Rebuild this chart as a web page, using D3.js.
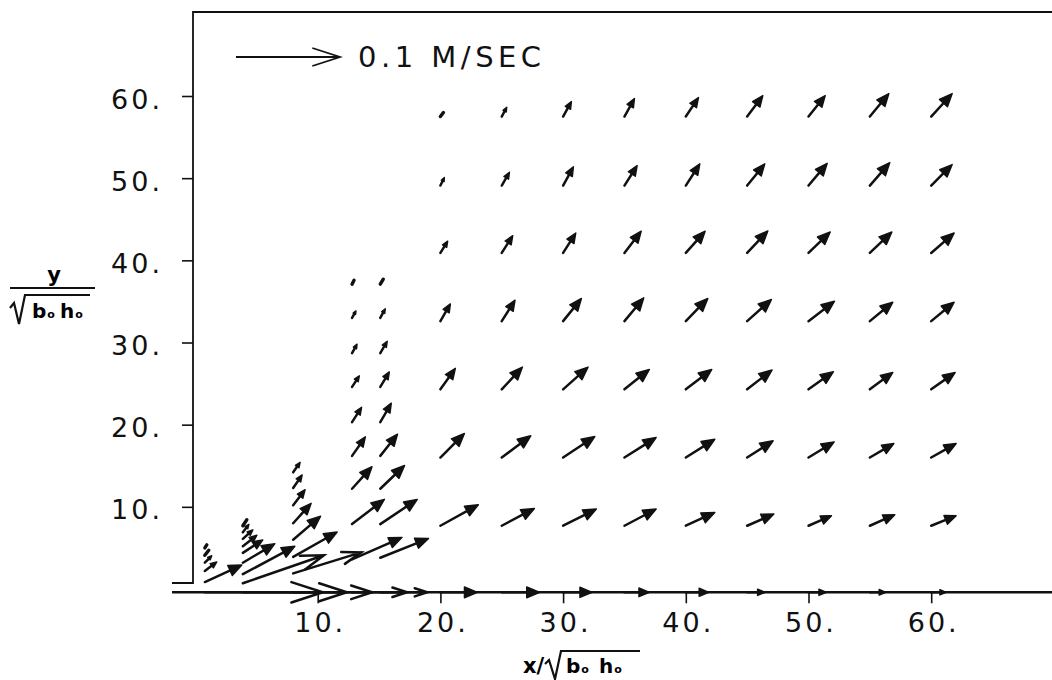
<!DOCTYPE html>
<html>
<head>
<meta charset="utf-8">
<script src="https://cdn.jsdelivr.net/npm/d3@7"></script>
<style>
	body { margin: 0; background: #fff; }
</style>
</head>
<body>
<div id="chart"></div>
<script>
//**********************************
// velocity field, x/sqrt(b0 h0) vs y/sqrt(b0 h0)
// velocities read in cm/s (reference arrow 0.1 M/SEC = 10 cm/s)
//**********************************
var gridX = [20, 25, 30, 35, 40, 45, 50, 55, 60];
var gridY = [57.5, 49.1, 40.9, 32.6, 24.3, 16.0, 7.7, -0.4];

// one row per column of gridX, values in gridY order
var gridU = [
	[0.29, 0.38, 0.70, 0.96, 1.44, 2.31, 3.65, 3.56],
	[0.48, 0.74, 1.06, 1.28, 1.99, 2.79, 3.14, 3.65],
	[0.80, 0.99, 1.22, 1.76, 2.40, 3.05, 3.20, 2.79],
	[0.96, 1.22, 1.61, 1.86, 2.40, 3.05, 3.05, 2.40],
	[1.22, 1.35, 1.86, 2.12, 2.50, 2.79, 2.79, 2.21],
	[1.51, 1.70, 1.99, 2.34, 2.40, 2.50, 2.57, 1.73],
	[1.61, 1.80, 2.09, 2.50, 2.40, 2.47, 2.21, 1.73],
	[1.83, 1.92, 2.12, 2.21, 2.21, 2.31, 2.40, 1.54],
	[2.02, 2.02, 2.21, 2.21, 2.31, 2.40, 2.40, 1.44]
];
var gridV = [
	[0.38, 0.77, 1.13, 1.66, 2.02, 2.31, 2.02, 0],
	[0.89, 1.28, 1.66, 2.02, 2.14, 2.09, 1.66, 0],
	[1.44, 1.80, 1.92, 2.18, 2.14, 2.02, 1.61, 0],
	[1.73, 1.92, 2.09, 2.24, 1.92, 1.92, 1.61, 0],
	[1.83, 2.09, 2.09, 2.18, 1.92, 1.76, 1.28, 0],
	[2.02, 2.09, 2.12, 2.09, 1.86, 1.61, 1.13, 0],
	[2.02, 2.14, 2.02, 1.92, 1.70, 1.51, 0.96, 0],
	[2.21, 2.21, 2.02, 1.83, 1.63, 1.35, 1.06, 0],
	[2.21, 2.02, 1.92, 1.83, 1.63, 1.35, 0.96, 0]
];

// stations near the source, each with its own heights
var nearX = [0.8, 3.9, 8.0, 12.8, 15.1];
var nearY = [
	[5.0, 4.1, 3.2, 2.2, 0.85, -0.4],
	[7.7, 6.9, 6.1, 5.2, 4.4, 3.2, 1.8, 0.7, -0.4],
	[14.2, 12.3, 10.2, 8.0, 6.0, 3.9, 1.9, -0.4],
	[37.1, 33.0, 28.7, 24.6, 20.3, 16.2, 12.2, 7.9, 3.6, -0.4],
	[37.1, 33.0, 28.7, 24.6, 20.3, 16.2, 12.2, 7.9, 3.8, -0.4]
];
var nearU = [
	[0.19, 0.38, 0.67, 1.15, 3.56, 11.35],
	[0.38, 0.58, 0.96, 1.35, 1.92, 3.08, 5.00, 7.79, 10.0],
	[0.67, 0.87, 1.15, 1.73, 2.64, 4.23, 6.54, 7.60],
	[0.19, 0.38, 0.48, 0.70, 0.92, 1.28, 1.92, 3.11, 4.81, 5.29],
	[0.29, 0.48, 0.67, 0.87, 1.06, 1.66, 2.34, 3.56, 4.64, 4.52]
];
var nearV = [
	[0.29, 0.48, 0.67, 0.87, 1.63, 0],
	[0.58, 0.77, 0.87, 1.06, 1.25, 1.83, 2.69, 2.69, 0],
	[0.96, 1.25, 1.49, 1.92, 2.26, 2.40, 2.02, 0],
	[0.38, 0.67, 0.87, 1.06, 1.44, 1.83, 2.12, 2.38, 2.12, 0],
	[0.48, 0.87, 1.15, 1.44, 1.83, 2.09, 2.24, 2.38, 1.86, 0]
];

var xTicks = [10, 20, 30, 40, 50, 60];
var yTicks = [10, 20, 30, 40, 50, 60];
var refSpeed = 10;
var refLabel = "0.1 M/SEC";

var width = 1052, height = 680;
var tickFont = "'DejaVu Sans', sans-serif";

var svg = d3.select("#chart").append("svg")
	.attr("width", width)
	.attr("height", height)
	.style("display", "block");
var g = svg.append("g");

var x = d3.scaleLinear().domain([0, 70]).range([195, 1053.9]);
var y = d3.scaleLinear().domain([0, 60]).range([589, 96]);
var speed = d3.scaleLinear().domain([0, 10]).range([0, 104]);

var frameLeft = 193, frameTop = 12, frameBottom = 583;
var axisY = y(-0.4);

// frame
g.append("path")
	.attr("d", "M" + width + "," + frameTop + " L" + frameLeft + "," + frameTop +
		" L" + frameLeft + "," + frameBottom + " L172," + frameBottom)
	.style("fill", "none")
	.style("stroke", "#111")
	.style("stroke-width", 1.8);

g.append("line")
	.attr("x1", 172).attr("y1", axisY)
	.attr("x2", width).attr("y2", axisY)
	.style("stroke", "#111")
	.style("stroke-width", 2.4);

// y axis ticks
var yAxis = g.append("g")
	.attr("transform", "translate(" + frameLeft + ",0)")
	.call(d3.axisLeft(y).tickValues(yTicks).tickSize(11).tickFormat(function(d){ return d + "."; }));
yAxis.select(".domain").remove();
yAxis.selectAll("line").style("stroke", "#111").style("stroke-width", 1.6);
yAxis.selectAll("text")
	.attr("x", -30)
	.attr("dy", null)
	.attr("y", 12)
	.style("font-family", tickFont)
	.style("font-size", "27px")
	.style("letter-spacing", "3px")
	.style("fill", "#111");

// x axis ticks
var xAxis = g.append("g")
	.attr("transform", "translate(0," + axisY + ")")
	.call(d3.axisBottom(x).tickValues(xTicks).tickSize(11).tickFormat(function(d){ return d + "."; }));
xAxis.select(".domain").remove();
xAxis.selectAll("line").style("stroke", "#111").style("stroke-width", 1.6);
xAxis.selectAll("text")
	.attr("x", -24)
	.attr("dy", null)
	.attr("y", 40)
	.style("text-anchor", "start")
	.style("font-family", tickFont)
	.style("font-size", "27px")
	.style("letter-spacing", "3px")
	.style("fill", "#111");

// collect all vectors
var arrows = [];
gridX.forEach(function(cx, i){
	gridY.forEach(function(cy, j){
		arrows.push({ sx : cx, sy : cy, u : gridU[i][j], v : gridV[i][j] });
	});
});
nearX.forEach(function(cx, i){
	nearY[i].forEach(function(cy, j){
		arrows.push({ sx : cx, sy : cy, u : nearU[i][j], v : nearV[i][j] });
	});
});

var arrowParts = function(x0, y0, dx, dy, onAxis)
{
	var L = Math.sqrt(dx * dx + dy * dy);
	var ex = dx / L, ey = dy / L;
	var nx = -ey, ny = ex;
	var tx = x0 + dx, ty = y0 + dy;
	var open = L > 60 || (onAxis && L > 40);
	if(open)
	{
		var b = 0.28 * L, c = Math.cos(18 * Math.PI / 180), s = Math.sin(18 * Math.PI / 180);
		var p1 = [tx - b * (c * ex - s * nx), ty - b * (c * ey - s * ny)];
		var p2 = [tx - b * (c * ex + s * nx), ty - b * (c * ey + s * ny)];
		return {
			line : "M" + x0 + "," + y0 + " L" + tx + "," + ty +
				" M" + p1[0] + "," + p1[1] + " L" + tx + "," + ty + " L" + p2[0] + "," + p2[1],
			head : null
		};
	}
	// very short vectors are plotted as a short thick stroke
	if(L < 8)
	{
		return {
			line : "M" + x0 + "," + y0 + " L" + tx + "," + ty,
			head : null,
			blob : true
		};
	}
	var h = Math.min(13, 0.42 * L);
	var w = h * 0.42;
	var bx = tx - h * ex, by = ty - h * ey;
	var sx = bx + 0.3 * h * ex, sy = by + 0.3 * h * ey;
	return {
		line : "M" + x0 + "," + y0 + " L" + sx + "," + sy,
		head : "M" + tx + "," + ty + " L" + (bx + w * nx) + "," + (by + w * ny) +
			" L" + (bx - w * nx) + "," + (by - w * ny) + " Z"
	};
}

var vec = g.append("g").attr("class", "vectors");
arrows.forEach(function(a){
	var parts = arrowParts(x(a.sx), y(a.sy), speed(a.u), -speed(a.v), a.v == 0);
	vec.append("path")
		.attr("d", parts.line)
		.style("fill", "none")
		.style("stroke", "#111")
		.style("stroke-width", parts.blob ? 3.4 : 2.5)
		.style("stroke-linecap", "round");
	if(parts.head)
	{
		vec.append("path")
			.attr("d", parts.head)
			.style("fill", "#111")
			.style("stroke", "#111")
			.style("stroke-width", 1.4)
			.style("stroke-linejoin", "round");
	}
});

// reference arrow
var refParts = arrowParts(236, 57, speed(refSpeed), 0, true);
g.append("path")
	.attr("d", refParts.line)
	.style("fill", "none")
	.style("stroke", "#111")
	.style("stroke-width", 1.8);
g.append("text")
	.attr("x", 358)
	.attr("y", 67)
	.style("font-family", tickFont)
	.style("font-size", "29px")
	.style("letter-spacing", "4.5px")
	.style("fill", "#111")
	.text(refLabel);

// y axis title: y / sqrt(b0 h0)
var labelFont = "'DejaVu Sans', sans-serif";
var yt = g.append("g");
yt.append("text")
	.attr("x", 54).attr("y", 282)
	.style("text-anchor", "middle")
	.style("font-family", labelFont).style("font-weight", "bold").style("font-size", "21px")
	.text("y");
yt.append("line")
	.attr("x1", 10).attr("y1", 288).attr("x2", 95).attr("y2", 288)
	.style("stroke", "#111").style("stroke-width", 2);
yt.append("path")
	.attr("d", "M10,308 L14,303 L19,324 L25,295 L90,295")
	.style("fill", "none").style("stroke", "#111").style("stroke-width", 2.2);
var ytxt = yt.append("text")
	.attr("x", 32).attr("y", 318)
	.style("font-family", labelFont).style("font-weight", "bold").style("font-size", "20px");
ytxt.append("tspan").text("b");
ytxt.append("tspan").attr("dx", 1).style("font-size", "11px").text("o");
ytxt.append("tspan").attr("dx", 5).text("h");
ytxt.append("tspan").attr("dx", 1).style("font-size", "11px").text("o");

// x axis title: x / sqrt(b0 h0)
var xt = g.append("g");
xt.append("text")
	.attr("x", 523).attr("y", 673)
	.style("font-family", labelFont).style("font-weight", "bold").style("font-size", "21px")
	.text("x/");
xt.append("path")
	.attr("d", "M545,664 L549,660 L555,679 L561,651 L640,651")
	.style("fill", "none").style("stroke", "#111").style("stroke-width", 2.2);
var xtxt = xt.append("text")
	.attr("x", 566).attr("y", 673)
	.style("font-family", labelFont).style("font-weight", "bold").style("font-size", "20px");
xtxt.append("tspan").text("b");
xtxt.append("tspan").attr("dx", 1).style("font-size", "11px").text("o");
xtxt.append("tspan").attr("dx", 10).text("h");
xtxt.append("tspan").attr("dx", 1).style("font-size", "11px").text("o");
</script>
</body>
</html>
